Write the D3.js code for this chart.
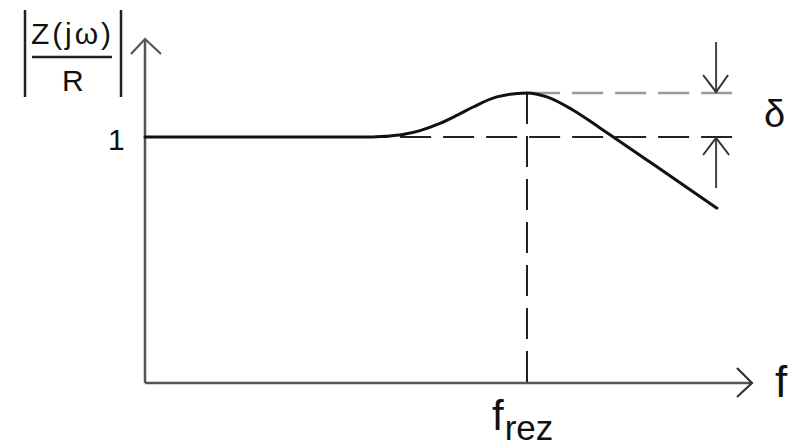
<!DOCTYPE html>
<html>
<head>
<meta charset="utf-8">
<script src="https://cdn.jsdelivr.net/npm/d3@7"></script>
<style>
  html, body { margin: 0; padding: 0; background: #fff; }
  text { font-family: "Liberation Sans", Arial, sans-serif; fill: #111; }
</style>
</head>
<body>
<div id="chart"></div>
<script>
const width = 806;
const height = 447;

// frequence normalisee f / f_rez
const freq = [0, 0.5, 0.589, 0.63, 0.675, 0.72, 0.772, 0.819, 0.859, 0.921, 1.0, 1.052, 1.120, 1.191, 1.322, 1.497];
// |Z(jw)| / R
const impedance = [1.0, 1.0, 1.0, 1.003, 1.010, 1.026, 1.055, 1.090, 1.122, 1.163, 1.179, 1.163, 1.110, 1.037, 0.898, 0.711];

const levelOne = 1.0;        // niveau "1"
const levelPeak = 1.179;     // sommet de resonance
const fRez = 1.0;            // frequence de resonance
const deltaX = 1.495;        // position des fleches delta
const dashEnd = 1.537;       // fin des lignes pointillees
const dashStart = 0.55;

const x = d3.scaleLinear().domain([0, 1]).range([145, 527]);
const y = d3.scaleLinear().domain([0, 1]).range([383, 137]);

const svg = d3.select("#chart")
    .append("svg")
    .attr("width", width)
    .attr("height", height);

const axisColor = "#555";

// axes avec fleches ouvertes
svg.append("line")
    .attr("x1", x(0)).attr("y1", y(0))
    .attr("x2", x(0)).attr("y2", 40)
    .attr("stroke", axisColor).attr("stroke-width", 2.5);
svg.append("path")
    .attr("d", `M${x(0) - 14},54 L${x(0)},39 L${x(0) + 16},54`)
    .attr("fill", "none").attr("stroke", axisColor).attr("stroke-width", 2.2);

svg.append("line")
    .attr("x1", x(0)).attr("y1", y(0))
    .attr("x2", 751).attr("y2", y(0))
    .attr("stroke", axisColor).attr("stroke-width", 2.5);
svg.append("path")
    .attr("d", `M737,${y(0) - 15} L752,${y(0)} L737,${y(0) + 14}`)
    .attr("fill", "none").attr("stroke", "#333").attr("stroke-width", 2.2);

// lignes pointillees (tracees depuis la droite pour caler les tirets)
svg.append("line")
    .attr("x1", x(dashEnd)).attr("y1", y(levelOne))
    .attr("x2", x(dashStart)).attr("y2", y(levelOne))
    .attr("stroke", "#222").attr("stroke-width", 2)
    .attr("stroke-dasharray", "31,12");
svg.append("line")
    .attr("x1", x(dashEnd)).attr("y1", y(levelPeak))
    .attr("x2", x(fRez)).attr("y2", y(levelPeak))
    .attr("stroke", "#999").attr("stroke-width", 2.5)
    .attr("stroke-dasharray", "31,12");
svg.append("line")
    .attr("x1", x(fRez)).attr("y1", y(levelPeak))
    .attr("x2", x(fRez)).attr("y2", y(0))
    .attr("stroke", "#222").attr("stroke-width", 2)
    .attr("stroke-dasharray", "31,12");

// courbe
const line = d3.line()
    .x((d, i) => x(freq[i]))
    .y(d => y(d))
    .curve(d3.curveMonotoneX);

svg.append("path")
    .datum(impedance)
    .attr("d", line)
    .attr("fill", "none")
    .attr("stroke", "#111")
    .attr("stroke-width", 3)
    .attr("stroke-linecap", "round");

// fleches delta
const ax = x(deltaX);
svg.append("line")
    .attr("x1", ax).attr("y1", 42).attr("x2", ax).attr("y2", y(levelPeak))
    .attr("stroke", "#444").attr("stroke-width", 2);
svg.append("path")
    .attr("d", `M${ax - 13},75 L${ax},${y(levelPeak) - 1} L${ax + 12},75`)
    .attr("fill", "none").attr("stroke", "#333").attr("stroke-width", 2);
svg.append("line")
    .attr("x1", ax).attr("y1", 188).attr("x2", ax).attr("y2", y(levelOne) + 1)
    .attr("stroke", "#444").attr("stroke-width", 2);
svg.append("path")
    .attr("d", `M${ax - 13},155 L${ax},${y(levelOne) + 1} L${ax + 13},155`)
    .attr("fill", "none").attr("stroke", "#333").attr("stroke-width", 2);

// textes
svg.append("text").attr("x", 764).attr("y", 127)
    .style("font-size", "38px").text("δ");

svg.append("text").attr("x", 775).attr("y", 397)
    .style("font-size", "44px").text("f");

const frez = svg.append("text").attr("x", 492).attr("y", 430);
frez.append("tspan").style("font-size", "42px").text("f");
frez.append("tspan").attr("y", 440).attr("dx", 1).style("font-size", "35px").text("rez");

svg.append("text").attr("x", 108).attr("y", 150)
    .style("font-size", "30px").text("1");

// etiquette |Z(jw)/R|
svg.append("text").attr("x", 31).attr("y", 44)
    .attr("textLength", 80).attr("lengthAdjust", "spacing")
    .style("font-size", "30px").text("Z(jω)");
svg.append("text").attr("x", 62).attr("y", 91)
    .style("font-size", "30px").text("R");
svg.append("line")
    .attr("x1", 32).attr("y1", 57).attr("x2", 112).attr("y2", 57)
    .attr("stroke", "#222").attr("stroke-width", 2.5);
[25, 121].forEach(bx => {
    svg.append("line")
        .attr("x1", bx).attr("y1", 10).attr("x2", bx).attr("y2", 97)
        .attr("stroke", "#222").attr("stroke-width", 2.5);
});
</script>
</body>
</html>
